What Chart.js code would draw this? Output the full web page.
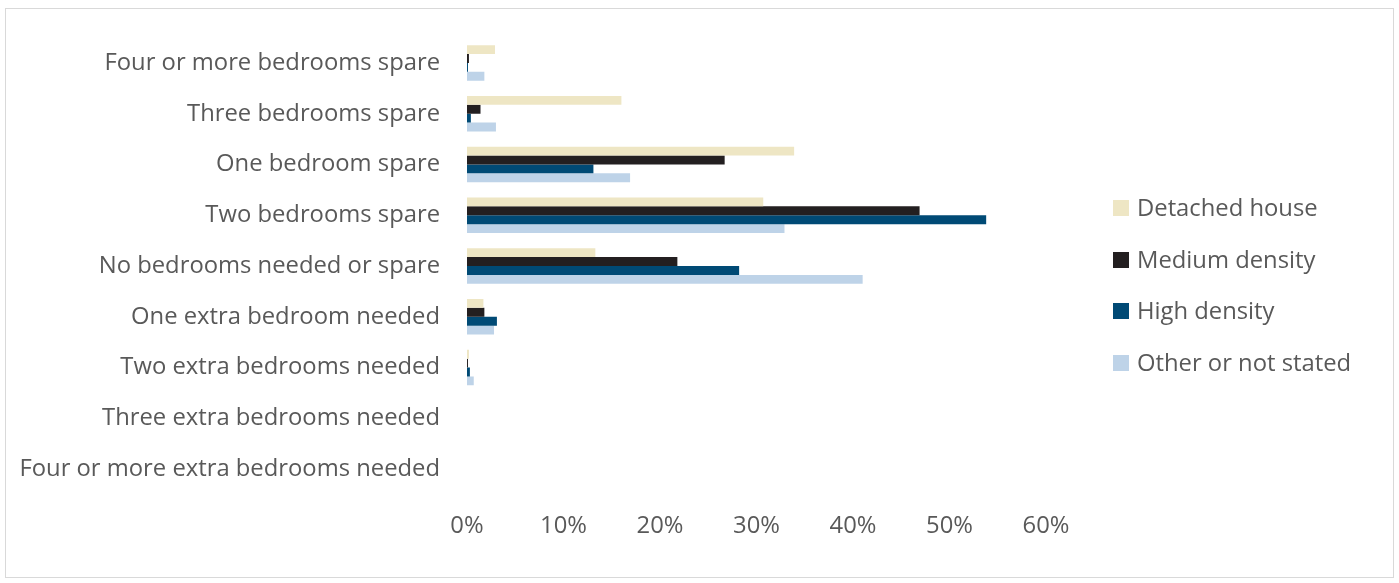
<!DOCTYPE html>
<html>
<head>
<meta charset="utf-8">
<script src="https://cdn.jsdelivr.net/npm/chart.js@4"></script>
<style>
    html, body { margin: 0; padding: 0; background: #fff; }
    .frame { position: absolute; left: 5px; top: 8px; width: 1389px; height: 570px;
        border: 1px solid #d9d9d9; box-sizing: border-box; }
    .frame canvas { position: absolute; left: 0; top: 0; }
    .legend { position: absolute; left: 1107px; top: 182px; font-family: 'Open Sans', sans-serif;
        font-size: 23.8px; color: #595959; }
    .legend div { height: 51.5px; display: flex; align-items: flex-start; white-space: nowrap; }
    .legend span.box { display: inline-block; width: 16px; height: 16px; margin: 9px 8px 0 0; }
</style>
</head>
<body>
<div class="frame">
    <canvas id="chart" width="1387" height="568"></canvas>
    <div class="legend" id="legend"></div>
</div>
<script>
const categories = [
    'Four or more bedrooms spare',
    'Three bedrooms spare',
    'One bedroom spare',
    'Two bedrooms spare',
    'No bedrooms needed or spare',
    'One extra bedroom needed',
    'Two extra bedrooms needed',
    'Three extra bedrooms needed',
    'Four or more extra bedrooms needed'
];
const seriesNames = ['Detached house', 'Medium density', 'High density', 'Other or not stated'];
const seriesColors = ['#eee6c4', '#231f20', '#004a75', '#bed3e8'];

// percentages per category, same order as categories
const detached = [2.9, 16.0, 33.9, 30.7, 13.3, 1.7, 0.2, 0, 0];
const medium   = [0.2, 1.4, 26.7, 46.9, 21.8, 1.8, 0.1, 0, 0];
const high     = [0.1, 0.4, 13.1, 53.8, 28.2, 3.1, 0.3, 0, 0];
const other    = [1.8, 3.0, 16.9, 32.9, 41.0, 2.8, 0.7, 0, 0];

const xTicks = [0, 10, 20, 30, 40, 50, 60];

const textColor = '#595959';
const font = { family: "'Open Sans', sans-serif", size: 23.8 };

const seriesData = [detached, medium, high, other];
const datasets = seriesNames.map((name, i) => ({
    label: name,
    data: seriesData[i],
    backgroundColor: seriesColors[i],
    categoryPercentage: 0.7,
    barPercentage: 1.0
}));

new Chart(document.getElementById('chart'), {
    type: 'bar',
    data: { labels: categories, datasets },
    options: {
        indexAxis: 'y',
        responsive: false,
        animation: false,
        layout: { padding: { top: 28.6, right: 347, bottom: 32.6, left: 0 } },
        plugins: { legend: { display: false }, tooltip: { enabled: false } },
        scales: {
            x: {
                min: 0, max: 60,
                afterBuildTicks: (scale) => { scale.ticks = xTicks.map(v => ({ value: v })); },
                afterFit: (scale) => { scale.height = 50; },
                grid: { display: false },
                border: { display: false },
                ticks: { color: textColor, font, padding: 10, callback: (v) => v + '%' }
            },
            y: {
                afterFit: (scale) => {
                    scale.width = 461;
                    // labels sit inside the bands, no extra room needed above or below
                    scale.paddingTop = 0;
                    scale.paddingBottom = 0;
                },
                grid: { display: false },
                border: { display: false },
                ticks: { color: textColor, font, padding: 19 }
            }
        }
    }
});

// legend beside the plot
const legend = document.getElementById('legend');
seriesNames.forEach((name, i) => {
    const row = document.createElement('div');
    row.innerHTML = `<span class="box" style="background:${seriesColors[i]}"></span>${name}`;
    legend.appendChild(row);
});
</script>
</body>
</html>
